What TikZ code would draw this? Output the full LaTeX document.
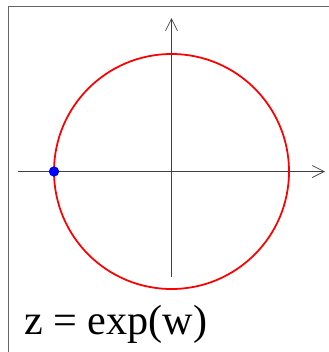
\documentclass[tikz,border=0pt]{standalone}
\usepackage{fontspec}
\setmainfont{Liberation Serif}
\usetikzlibrary{arrows.meta}
\begin{document}
\begin{tikzpicture}[
        x=0.03cm, y=-0.03cm,
        axis/.style={->, >={Straight Barb[length=0.36cm, width=0.36cm]}, black!75, line width=0.6pt},
        unitcircle/.style={red, line width=1.5pt},
        frameline/.style={black!60, line width=1.1pt},
        bluedot/.style={circle, fill=blue, inner sep=0pt, minimum size=0.31cm},
        eqtext/.style={font=\fontsize{36}{40}\selectfont, anchor=base west, inner sep=0pt}
    ]
        \useasboundingbox (0,0) rectangle (329,352);

        % Frame
        \draw[frameline] (8.5,352) -- (8.5,6.5) -- (329,6.5);

        % Axes
        \coordinate (o) at (171.5,171.5);
        \coordinate (xmin) at (18,171.5);
        \coordinate (xmax) at (325,171.5);
        \coordinate (ymin) at (171.5,277);
        \coordinate (ymax) at (171.5,18);
        \draw[axis] (xmin) -- (xmax);
        \draw[axis] (ymin) -- (ymax);

        % Circle and point
        \draw[unitcircle] (o) circle[radius=117.5];
        \node[bluedot] (z) at (54,171.5) {};

        % Label
        \node[eqtext] (eq) at (24,334) {z = exp(w)};
    \end{tikzpicture}
\end{document}
